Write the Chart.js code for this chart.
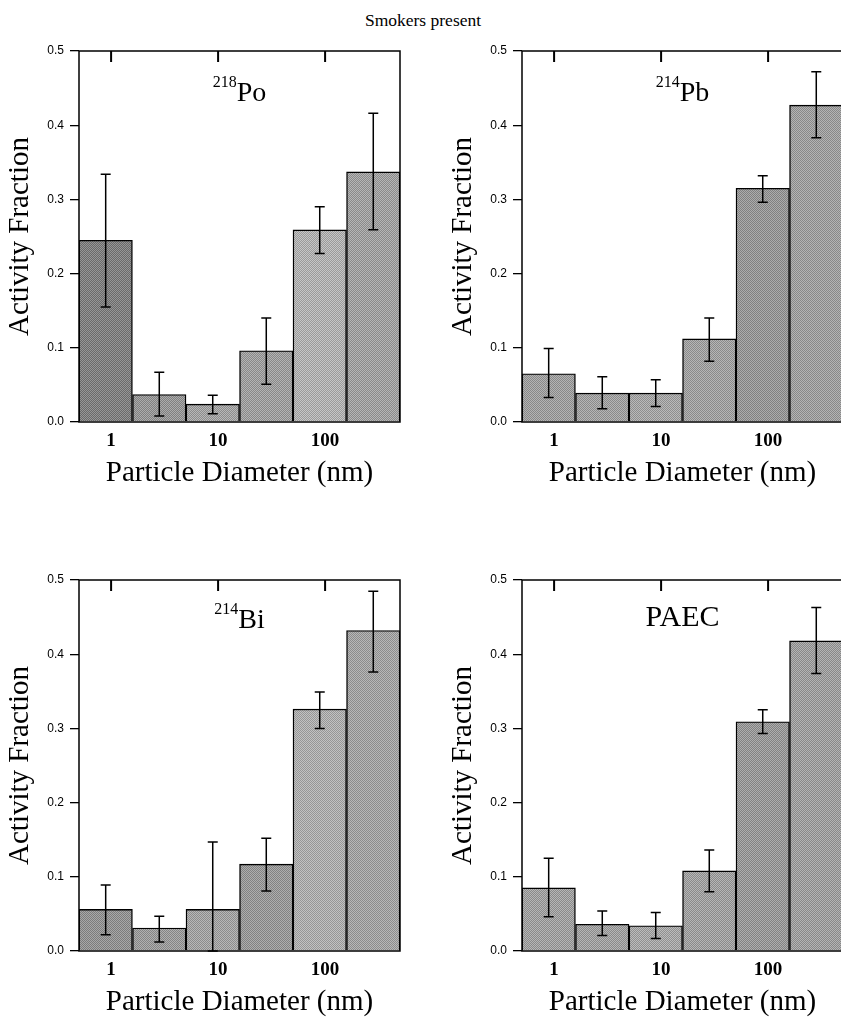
<!DOCTYPE html>
<html>
<head>
<meta charset="utf-8">
<script src="https://cdn.jsdelivr.net/npm/chart.js@4.4.1/dist/chart.umd.min.js"></script>
<style>
html, body { margin: 0; padding: 0; background: #fff; }
body { width: 841px; height: 1020px; overflow: hidden; position: relative; }
#title { position: absolute; left: 0; width: 846px; top: 10px; line-height: 20px; text-align: center; font-family: "Liberation Serif", serif; font-size: 17.5px; color: #000; }
canvas { position: absolute; }
</style>
</head>
<body>
<div id="title">Smokers present</div>
<canvas id="chartPo" width="420" height="470" style="left:0;top:30px"></canvas>
<canvas id="chartPb" width="420" height="470" style="left:443px;top:30px"></canvas>
<canvas id="chartBi" width="420" height="470" style="left:0;top:559px"></canvas>
<canvas id="chartPaec" width="420" height="470" style="left:443px;top:559px"></canvas>
<script>
// geometric centres of the half-decade size bins (nm)
var diameters = [0.89, 2.82, 8.91, 28.2, 89.1, 282];
var sizeTickValues = [1, 10, 100];
var sizeTickLabels = ['1', '10', '100'];

// 218Po
var po218 = [0.245, 0.037, 0.024, 0.096, 0.259, 0.337];
var po218Hi = [0.334, 0.067, 0.036, 0.140, 0.290, 0.416];
var po218Lo = [0.155, 0.008, 0.011, 0.051, 0.227, 0.259];

// 214Pb
var pb214 = [0.065, 0.039, 0.039, 0.112, 0.315, 0.427];
var pb214Hi = [0.099, 0.061, 0.057, 0.140, 0.332, 0.472];
var pb214Lo = [0.033, 0.018, 0.021, 0.082, 0.296, 0.383];

// 214Bi
var bi214 = [0.056, 0.031, 0.056, 0.117, 0.326, 0.432];
var bi214Hi = [0.089, 0.047, 0.147, 0.152, 0.349, 0.485];
var bi214Lo = [0.022, 0.012, 0.000, 0.081, 0.300, 0.376];

// PAEC
var paec = [0.085, 0.036, 0.034, 0.108, 0.309, 0.418];
var paecHi = [0.125, 0.054, 0.052, 0.136, 0.325, 0.463];
var paecLo = [0.046, 0.021, 0.017, 0.080, 0.293, 0.374];

Chart.defaults.font.family = '"Liberation Serif", serif';
Chart.defaults.color = '#000';

// halftone-looking fill like the scanned print
function dither(g) {
    var c = document.createElement('canvas');
    c.width = 2; c.height = 2;
    var x = c.getContext('2d');
    var a = Math.max(0, g - 22), b = Math.min(255, g + 22);
    x.fillStyle = 'rgb(' + a + ',' + a + ',' + a + ')';
    x.fillRect(0, 0, 2, 2);
    x.fillStyle = 'rgb(' + b + ',' + b + ',' + b + ')';
    x.fillRect(0, 0, 1, 1);
    x.fillRect(1, 1, 1, 1);
    return x.createPattern(c, 'repeat');
}

var errorBars = {
    id: 'errorBars',
    afterDatasetsDraw: function (chart) {
        var ctx = chart.ctx;
        var ds = chart.data.datasets[0];
        var meta = chart.getDatasetMeta(0);
        var yScale = chart.scales.y;
        ctx.save();
        ctx.strokeStyle = '#000';
        ctx.lineWidth = 1.5;
        meta.data.forEach(function (bar, i) {
            var x = bar.x;
            var yHi = yScale.getPixelForValue(ds.errHi[i]);
            var yLo = yScale.getPixelForValue(ds.errLo[i]);
            ctx.beginPath();
            ctx.moveTo(x, yHi); ctx.lineTo(x, yLo);
            ctx.moveTo(x - 5, yHi); ctx.lineTo(x + 5, yHi);
            ctx.moveTo(x - 5, yLo); ctx.lineTo(x + 5, yLo);
            ctx.stroke();
        });
        ctx.restore();
    }
};

var frame = {
    id: 'frame',
    afterDatasetsDraw: function (chart) {
        var ctx = chart.ctx;
        var a = chart.chartArea;
        var xScale = chart.scales.x;
        ctx.save();
        ctx.strokeStyle = '#000';
        ctx.lineWidth = 1.5;
        ctx.strokeRect(a.left, a.top, a.right - a.left, a.bottom - a.top);
        ctx.lineWidth = 2;
        ctx.beginPath();
        sizeTickValues.forEach(function (v) {
            var px = xScale.getPixelForValue(Math.log10(v));
            ctx.moveTo(px, a.top);
            ctx.lineTo(px, a.top + 11);
        });
        ctx.stroke();
        ctx.restore();
    }
};

var panelLabel = {
    id: 'panelLabel',
    afterDraw: function (chart, args, opts) {
        var ctx = chart.ctx;
        var a = chart.chartArea;
        var fam = '"Liberation Serif", serif';
        ctx.save();
        ctx.fillStyle = '#000';
        ctx.textBaseline = 'alphabetic';
        ctx.font = opts.supSize + 'px ' + fam;
        var wSup = opts.sup ? ctx.measureText(opts.sup).width : 0;
        ctx.font = opts.size + 'px ' + fam;
        var wMain = ctx.measureText(opts.main).width;
        var x0 = (a.left + a.right) / 2 - (wSup + wMain) / 2;
        var base = a.top + opts.baseline;
        if (opts.sup) {
            ctx.font = opts.supSize + 'px ' + fam;
            ctx.fillText(opts.sup, x0, base - 14);
        }
        ctx.font = opts.size + 'px ' + fam;
        ctx.fillText(opts.main, x0 + wSup, base);
        ctx.restore();
    }
};

function makePanel(canvasId, values, hi, lo, grays, label) {
    var ctx = document.getElementById(canvasId).getContext('2d');
    var points = diameters.map(function (d, i) {
        return { x: Math.log10(d), y: values[i] };
    });
    return new Chart(ctx, {
        type: 'bar',
        data: {
            datasets: [{
                data: points,
                errHi: hi,
                errLo: lo,
                backgroundColor: grays.map(dither),
                borderColor: '#000',
                borderWidth: 1.4,
                barPercentage: 1,
                categoryPercentage: 1
            }]
        },
        options: {
            responsive: false,
            animation: false,
            events: [],
            layout: { padding: { top: 21, right: 20, left: 0, bottom: 0 } },
            plugins: {
                legend: { display: false },
                tooltip: { enabled: false },
                panelLabel: label
            },
            scales: {
                x: {
                    type: 'linear',
                    offset: false,
                    min: -0.3,
                    max: 2.7,
                    afterBuildTicks: function (scale) {
                        scale.ticks = sizeTickValues.map(function (v) { return { value: Math.log10(v) }; });
                    },
                    afterFit: function (scale) { scale.height = 78; },
                    grid: { display: false, drawTicks: false, offset: false },
                    border: { display: false },
                    ticks: {
                        padding: 8,
                        maxRotation: 0,
                        font: { size: 19, weight: 'bold' },
                        callback: function (v) {
                            var i = sizeTickValues.map(Math.log10).findIndex(function (t) { return Math.abs(t - v) < 1e-6; });
                            return i >= 0 ? sizeTickLabels[i] : '';
                        }
                    },
                    title: {
                        display: true,
                        text: 'Particle Diameter (nm)',
                        font: { size: 29 },
                        padding: { top: 0, bottom: 9 }
                    }
                },
                y: {
                    min: 0,
                    max: 0.5,
                    afterFit: function (scale) { scale.width = 79; },
                    grid: { drawOnChartArea: false, drawTicks: true, tickLength: 9, color: '#000', lineWidth: 1.3 },
                    border: { display: false },
                    ticks: {
                        stepSize: 0.1,
                        padding: 6,
                        font: { family: '"Liberation Sans", sans-serif', size: 12 },
                        callback: function (v) { return v.toFixed(1); }
                    },
                    title: {
                        display: true,
                        text: 'Activity Fraction',
                        font: { size: 29 },
                        padding: { top: 3, bottom: 0 }
                    }
                }
            }
        },
        plugins: [errorBars, frame, panelLabel]
    });
}

makePanel('chartPo', po218, po218Hi, po218Lo,
    [128, 150, 162, 158, 176, 160],
    { sup: '218', main: 'Po', size: 28, supSize: 16, baseline: 50 });
makePanel('chartPb', pb214, pb214Hi, pb214Lo,
    [158, 160, 164, 160, 150, 158],
    { sup: '214', main: 'Pb', size: 28, supSize: 16, baseline: 50 });
makePanel('chartBi', bi214, bi214Hi, bi214Lo,
    [146, 154, 162, 152, 172, 162],
    { sup: '214', main: 'Bi', size: 28, supSize: 16, baseline: 48 });
makePanel('chartPaec', paec, paecHi, paecLo,
    [160, 160, 166, 160, 152, 158],
    { sup: '', main: 'PAEC', size: 30, supSize: 16, baseline: 46 });
</script>
</body>
</html>
